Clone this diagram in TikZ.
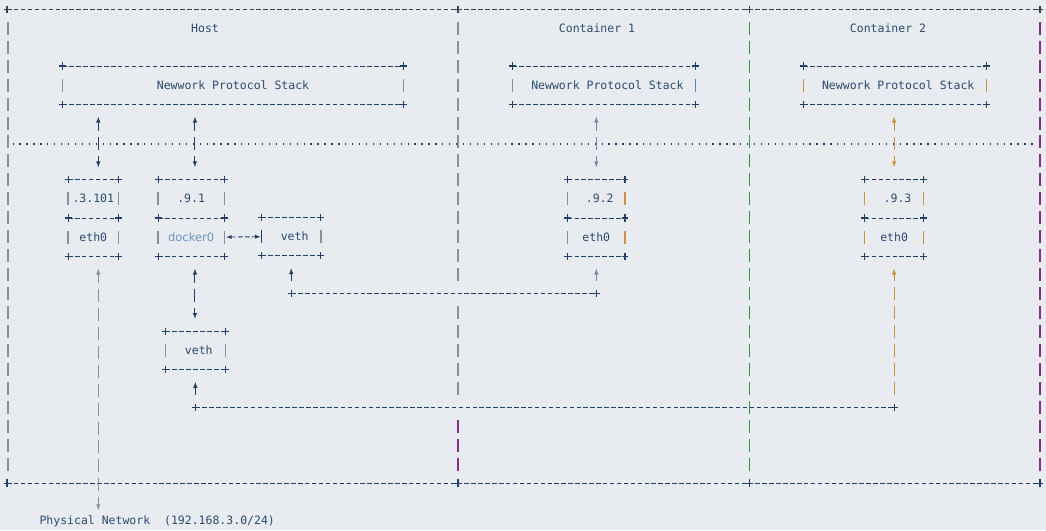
\documentclass[tikz,border=0pt]{standalone}
\usepackage{xcolor}
\usepackage{fontspec}
\setmonofont{DejaVu Sans Mono}
\newfontfamily\dockerfont{DejaVu Sans}
\usepackage{tikz}
\usetikzlibrary{positioning}

\definecolor{bgcol}{HTML}{E8ECF0}
\definecolor{navy}{HTML}{1F3F6E}
\definecolor{ink}{HTML}{2A4A73}
\definecolor{topgray}{HTML}{3A4250}
\definecolor{bargray}{HTML}{8C9096}
\definecolor{barpurple}{HTML}{8A2C8C}
\definecolor{bargreen}{HTML}{23A040}
\definecolor{barorange}{HTML}{D0903A}
\definecolor{barblue}{HTML}{4A88D6}
\definecolor{steel}{HTML}{7189AC}
\definecolor{dockerblue}{HTML}{6E93C6}

\tikzset{
  txt/.style={font=\ttfamily\fontsize{11.5}{13}\selectfont, text=ink, inner sep=0pt},
  cell/.style={txt, minimum height=37.9pt},
  dashline/.style={navy, line width=0.9pt, dash pattern=on 4.5pt off 2.43pt},
  bar/.style={line width=1.3pt},
  frame/.style={line width=1.2pt, dash pattern=on 13pt off 5.95pt},
  dots/.style={navy, line width=1.3pt, dash pattern=on 1.3pt off 5.63pt},
  updown/.style={latex-latex, line width=1pt, dash pattern=on 13pt off 5.95pt, dash phase=4pt, shorten <=12.45pt, shorten >=12.45pt},
  upbar/.style={-latex, line width=1pt, dash pattern=on 13pt off 5.95pt, shorten <=12.45pt, shorten >=12.45pt},
  tip/.style={-latex, line width=1pt, shorten <=12.45pt, shorten >=12.45pt},
  plus/.pic={\draw[line width=1.1pt] (-3.4,0) -- (3.4,0) (0,-3.6) -- (0,3.6);}
}

\newcommand\asciibox[3]{%
  \draw[dashline] (#1.north west) -- (#1.north east) (#1.south west) -- (#1.south east);
  \draw[bar,#2] ([yshift=6.5pt]#1.west) -- ([yshift=-6.5pt]#1.west);
  \draw[bar,#3] ([yshift=6.5pt]#1.east) -- ([yshift=-6.5pt]#1.east);
  \foreach \c in {north west,north east,south west,south east} {\pic[navy] at (#1.\c) {plus};}
}

\begin{document}
\begin{tikzpicture}[x=1pt,y=-1pt]

	\fill[bgcol] (0,0) rectangle (1046,530);
	\useasboundingbox (0,0) rectangle (1046,530);

	\draw[dashline,topgray] (7,9.3) -- (1040,9.3);
	\draw[dashline] (7,483.05) -- (1040,483.05);
	\foreach \x in {7,458,749.5,1040} {
		\pic[topgray] at (\x,9.3) {plus};
		\pic[navy] at (\x,483.05) {plus};
	}
	\draw[dots] (12.5,144) -- (1037,144);

	\node[txt] (hosttitle) at (205,28.25) {Host};
	\node[txt] (c1title) at (597,28.25) {Container 1};
	\node[txt] (c2title) at (888,28.25) {Container 2};

	\node[cell, minimum width=340.6pt] (hoststack) at (233,85.1) {Newwork Protocol Stack};
	\node[cell, minimum width=182.5pt] (c1stack) at (603.95,85.1) {\ Newwork Protocol Stack};
	\node[cell, minimum width=182.5pt] (c2stack) at (894.75,85.1) {\ Newwork Protocol Stack};

	\node[cell, minimum width=50pt] (hostip) at (93.3,198.8) {.3.101};
	\node[cell, minimum width=50pt, below=0pt of hostip] (hosteth) {eth0};
	\node[cell, minimum width=65.7pt] (dockerip) at (191.15,198.8) {.9.1};
	\node[cell, minimum width=65.7pt, below=0pt of dockerip, font=\dockerfont\fontsize{11.5}{13}\selectfont, text=dockerblue] (dockerbr) {docker0};
	\node[cell, minimum width=59pt] (hostveth) at (291.2,236.7) {\ veth};
	\node[cell, minimum width=59.3pt] (vethb) at (195.35,350.4) {\ veth};
	\node[cell, minimum width=57pt] (c1ip) at (596.3,198.8) {\ .9.2};
	\node[cell, minimum width=57pt, below=0pt of c1ip] (c1eth) {eth0\ };
	\node[cell, minimum width=58.2pt] (c2ip) at (894.1,198.8) {\ .9.3};
	\node[cell, minimum width=58.2pt, below=0pt of c2ip] (c2eth) {eth0\ };
	\node[txt, anchor=west] (physnet) at (39.3,520.95) {Physical Network\ \ (192.168.3.0/24)};

	\foreach \nm/\lc/\rc in {hoststack/bargray/bargray, c1stack/bargray/barblue, c2stack/barorange/barorange,
		hostip/bargray/bargray, hosteth/bargray/bargray, dockerip/bargray/bargray, dockerbr/bargray/bargray,
		hostveth/navy/bargray, vethb/bargray/bargray, c1ip/bargray/barorange, c1eth/bargray/barorange,
		c2ip/barorange/barorange, c2eth/barorange/barorange} {
		\asciibox{\nm}{\lc}{\rc}
	}

	\draw[updown, navy] ([xshift=5pt]hostip.north |- hoststack.south) -- ([xshift=5pt]hostip.north);
	\draw[updown, navy] ([xshift=3.8pt]dockerip.north |- hoststack.south) -- ([xshift=3.8pt]dockerip.north);
	\draw[updown, steel] (c1ip.north |- c1stack.south) -- (c1ip.north);
	\draw[updown, barorange] (c2ip.north |- c2stack.south) -- (c2ip.north);
	\draw[updown, navy] ([xshift=3.8pt]dockerbr.south) -- ([xshift=3.8pt]dockerbr.south |- vethb.north);
	\draw[updown, bargray, shorten >=5pt] ([xshift=5pt]hosteth.south) -- ([xshift=5pt]hosteth.south |- physnet.north);
	\draw[latex-latex, dashline, shorten <=2pt, shorten >=1pt] (dockerbr.east) -- (hostveth.west);

	\coordinate (v1) at ([yshift=-37.9pt]hostveth.south);
	\coordinate (e1) at (c1eth.south |- v1);
	\coordinate (w1) at ([yshift=-37.9pt]vethb.south);
	\coordinate (w2) at (c2eth.south |- w1);
	\draw[dashline] (v1) -- (e1);
	\draw[dashline] (w1) -- (w2);
	\draw[tip, navy] (v1) -- (hostveth.south);
	\draw[tip, steel] (e1) -- (c1eth.south);
	\draw[tip, navy] (w1) -- (vethb.south);
	\draw[upbar, barorange] (w2) -- (c2eth.south);
	\foreach \j in {v1,e1,w1,w2} {
		\pic[navy] at (\j) {plus};
	}

	\draw[frame, bargray] (8,21.75) -- (8,470.6);
	\draw[frame, bargray] (458,21.75) -- (458,281.1);
	\draw[frame, bargray] (458,306) -- (458,394.8);
	\draw[frame, barpurple] (458,419.7) -- (458,470.6);
	\draw[frame, bargreen, line width=1.5pt] (749.5,21.75) -- (749.5,470.6);
	\draw[frame, barpurple] (1040,21.75) -- (1040,470.6);
\end{tikzpicture}
\end{document}
